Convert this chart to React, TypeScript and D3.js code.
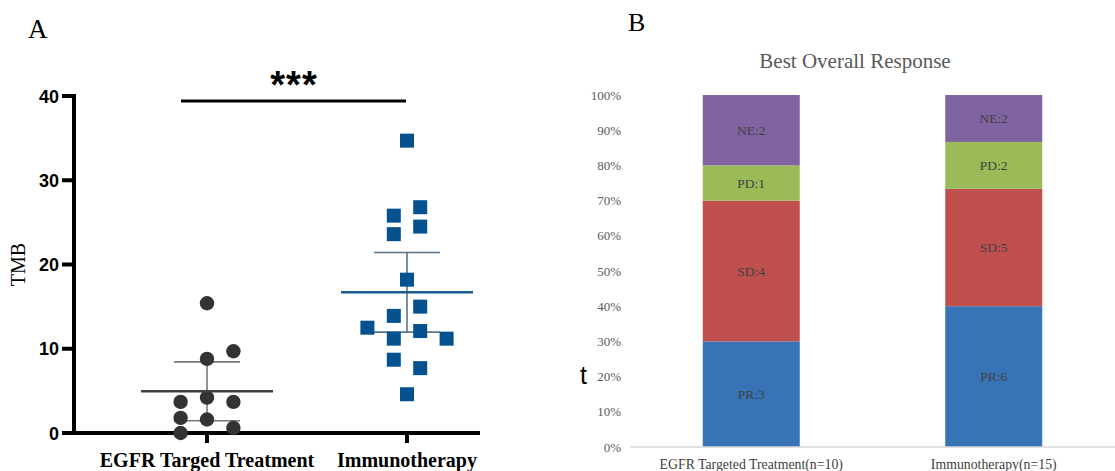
import React from "react";
import * as d3 from "d3";

const W = 1115;
const H = 471;

// panel A: TMB scatter
const groups = ["EGFR Targed Treatment", "Immunotherapy"];
const egfrTmb = [15.4, 9.7, 8.8, 3.7, 4.2, 3.7, 1.8, 1.6, 0.6, 0];
const egfrLane = [0, 2, 0, -2, 0, 2, -2, 0, 2, -2];
const immunoTmb = [34.7, 26.8, 25.8, 24.5, 23.6, 18.2, 15.0, 13.9, 12.5, 12.1, 11.2, 11.2, 8.7, 7.7, 4.6];
const immunoLane = [0, 1, -1, 1, -1, 0, 1, -1, -3, 1, -1, 3, -1, 1, 0];
const tmbTicks = [0, 10, 20, 30, 40];
const tCrit: Record<number, number> = { 9: 2.262, 14: 2.145 };

// panel B: best overall response
const arms = ["EGFR Targeted Treatment(n=10)", "Immunotherapy(n=15)"];
const responses = ["PR", "SD", "PD", "NE"];
const egfrCounts = [3, 4, 1, 2];
const immunoCounts = [6, 5, 2, 2];
const responseColors = ["#3873b5", "#c0504d", "#9bbb59", "#8064a2"];
const pctTicks = [0, 0.1, 0.2, 0.3, 0.4, 0.5, 0.6, 0.7, 0.8, 0.9, 1];

function ci(vals: number[]) {
  const m = d3.mean(vals) as number;
  const sem = (d3.deviation(vals) as number) / Math.sqrt(vals.length);
  const h = tCrit[vals.length - 1] * sem;
  return { m, lo: m - h, hi: m + h };
}

function PanelA() {
  const y = d3.scaleLinear().domain([0, 40]).range([433, 96]);
  const x = d3.scalePoint<string>().domain(groups).range([207, 407]);
  const lane = d3.scaleLinear().domain([-1, 1]).range([-13.2, 13.2]);
  const sets = [
    { vals: egfrTmb, lanes: egfrLane, color: "#333333", bar: "#777777" },
    { vals: immunoTmb, lanes: immunoLane, color: "#03528f", bar: "#5a7388" },
  ];
  const bold = { fontFamily: "'Liberation Sans', Arial, sans-serif", fontWeight: 700 };
  return (
    <g>
      <text x={28} y={38} fontFamily="'Liberation Serif', serif" fontSize={27}>A</text>
      <text transform={`translate(25,${y(20)}) rotate(-90)`} textAnchor="middle"
        fontFamily="'Liberation Serif', serif" fontSize={20}>TMB</text>
      {tmbTicks.map((t) => (
        <g key={t}>
          <line x1={62} x2={74} y1={y(t)} y2={y(t)} stroke="#000" strokeWidth={4} />
          <text x={59} y={y(t) + 6.5} textAnchor="end" fontSize={18} {...bold}>{t}</text>
        </g>
      ))}
      <line x1={74} x2={74} y1={y(40) - 2} y2={y(0) + 2} stroke="#000" strokeWidth={4} />
      <line x1={62} x2={480} y1={y(0)} y2={y(0)} stroke="#000" strokeWidth={4} />
      {groups.map((g) => (
        <g key={g}>
          <line x1={x(g)} x2={x(g)} y1={y(0)} y2={y(0) + 10} stroke="#000" strokeWidth={4} />
          <text x={x(g)} y={467} textAnchor="middle" fontFamily="'Liberation Serif', serif"
            fontWeight={700} fontSize={20}>{g}</text>
        </g>
      ))}
      {sets.map((s, gi) => {
        const cx = x(groups[gi]) as number;
        const st = ci(s.vals);
        return (
          <g key={gi}>
            <line x1={cx} x2={cx} y1={y(st.lo)} y2={y(st.hi)} stroke={s.bar} strokeWidth={1.6} />
            <line x1={cx - 33} x2={cx + 33} y1={y(st.hi)} y2={y(st.hi)} stroke={s.bar} strokeWidth={1.6} />
            <line x1={cx - 33} x2={cx + 33} y1={y(st.lo)} y2={y(st.lo)} stroke={s.bar} strokeWidth={1.6} />
            {s.vals.map((v, i) =>
              gi === 0 ? (
                <circle key={i} cx={cx + lane(s.lanes[i])} cy={y(v)} r={7.2} fill={s.color} />
              ) : (
                <rect key={i} x={cx + lane(s.lanes[i]) - 7} y={y(v) - 7} width={14} height={14} fill={s.color} />
              )
            )}
            <line x1={cx - 66} x2={cx + 66} y1={y(st.m)} y2={y(st.m)} stroke={gi === 0 ? "#404040" : "#1b5c92"} strokeWidth={2.6} />
          </g>
        );
      })}
      <line x1={181} x2={406} y1={101} y2={101} stroke="#000" strokeWidth={3} />
      <text x={294} y={98} textAnchor="middle" fontSize={38} letterSpacing={1} {...bold}>***</text>
    </g>
  );
}

function PanelB() {
  const x = d3.scaleBand<string>().domain(arms).range([630, 1115]).paddingInner(0.6).paddingOuter(0.3);
  const y = d3.scaleLinear().domain([0, 1]).range([447, 95]);
  const counts = [egfrCounts, immunoCounts];
  const serif = "'Liberation Serif', 'Times New Roman', serif";
  return (
    <g>
      <text x={628} y={31} fontFamily={serif} fontSize={26}>B</text>
      <text x={580} y={384} fontFamily="'Liberation Sans', sans-serif" fontSize={25}>t</text>
      <text x={855} y={68} textAnchor="middle" fontFamily={serif} fontSize={21} fill="#595959">Best Overall Response</text>
      {pctTicks.map((t) => (
        <text key={t} x={621} y={y(t) + 4.5} textAnchor="end" fontFamily={serif} fontSize={13} fill="#595959">
          {d3.format(".0%")(t)}
        </text>
      ))}
      {arms.map((a, ai) => {
        const total = d3.sum(counts[ai]);
        const cum = d3.cumsum(counts[ai]);
        const bx = x(a) as number;
        return (
          <g key={a}>
            {responses.map((r, ri) => {
              const y0 = (cum[ri] - counts[ai][ri]) / total;
              const y1 = cum[ri] / total;
              return (
                <g key={r}>
                  <rect x={bx} width={x.bandwidth()} y={y(y1)} height={y(y0) - y(y1)} fill={responseColors[ri]} />
                  <text x={bx + x.bandwidth() / 2} y={y((y0 + y1) / 2) + 4.5} textAnchor="middle"
                    fontFamily={serif} fontSize={13.5} fill="#404040">{`${r}:${counts[ai][ri]}`}</text>
                </g>
              );
            })}
            <text x={bx + x.bandwidth() / 2} y={469} textAnchor="middle" fontFamily={serif} fontSize={13.8} fill="#404040">{a}</text>
          </g>
        );
      })}
      <line x1={630} x2={1115} y1={y(0)} y2={y(0)} stroke="#d9d9d9" strokeWidth={1.5} />
    </g>
  );
}

export default function App() {
  return (
    <svg width={W} height={H} style={{ position: "absolute", left: 0, top: 0, background: "#fff" }}>
      <PanelA />
      <PanelB />
    </svg>
  );
}
